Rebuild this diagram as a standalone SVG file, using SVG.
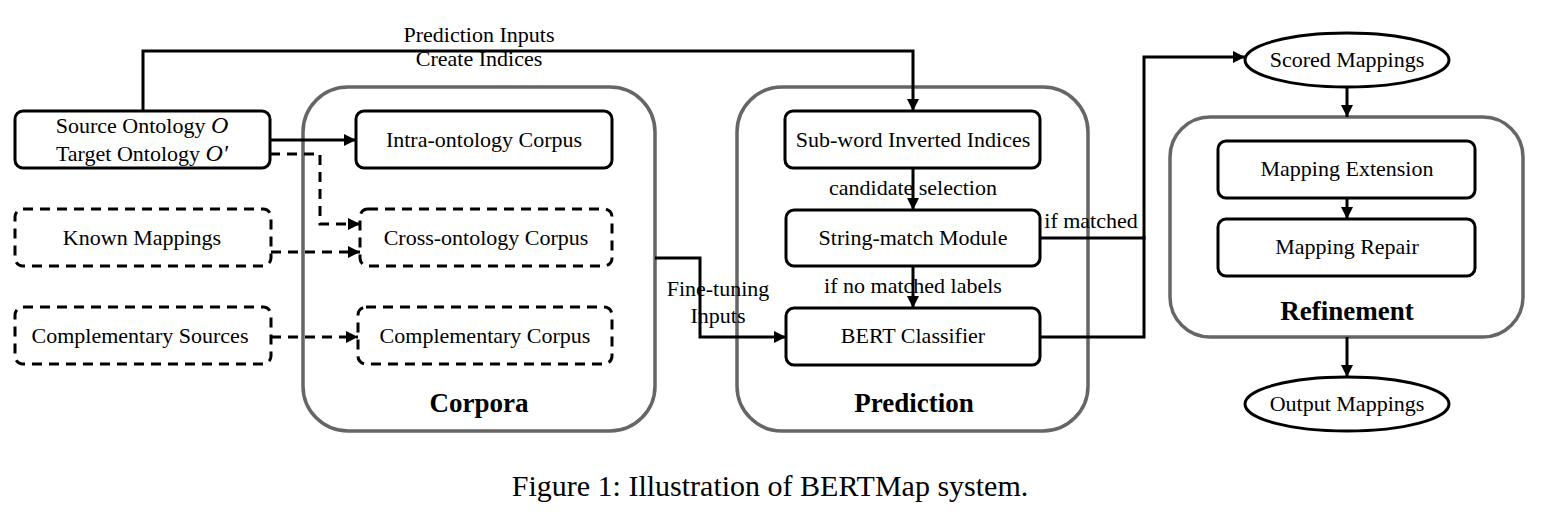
<svg xmlns="http://www.w3.org/2000/svg" width="1545" height="524" viewBox="0 0 1545 524">
<defs>
<marker id="ah" markerUnits="userSpaceOnUse" markerWidth="14" markerHeight="14" refX="12" refY="6" orient="auto">
<path d="M0,0 L12,6 L0,12 Z" fill="#000"/>
</marker>
<style>
.box{fill:#fff;stroke:#000;stroke-width:3}
.dbox{fill:#fff;stroke:#000;stroke-width:3;stroke-dasharray:10,7}
.grp{fill:#fff;stroke:#666;stroke-width:3.5}
.t{font-family:"Liberation Serif","Times New Roman",serif;font-size:22px;fill:#000;text-anchor:middle}
.b{font-family:"Liberation Serif","Times New Roman",serif;font-size:27px;font-weight:bold;fill:#000;text-anchor:middle}
.c{fill:none;stroke:#000;stroke-width:3}
.dc{fill:none;stroke:#000;stroke-width:3;stroke-dasharray:10,7}
</style>
</defs>
<rect width="1545" height="524" fill="#fff"/>

<g id="corpora">
<rect class="grp" x="303" y="87" width="352" height="344" rx="45"/>
<text class="b" x="479" y="412">Corpora</text>
</g>
<g id="prediction">
<rect class="grp" x="737" y="87" width="351" height="344" rx="45"/>
<text class="b" x="914" y="412">Prediction</text>
</g>
<g id="refinement">
<rect class="grp" x="1170" y="117" width="353" height="220" rx="40"/>
<text class="b" x="1347" y="320">Refinement</text>
</g>

<g id="connectors">
<polyline class="c" points="143,111 143,51 913,51 913,111" marker-end="url(#ah)"/>
<line class="c" x1="270" y1="140" x2="356" y2="140" marker-end="url(#ah)"/>
<polyline class="dc" points="270,154 320,154 320,224 360,224" marker-end="url(#ah)"/>
<line class="dc" x1="271" y1="252" x2="360" y2="252" marker-end="url(#ah)"/>
<line class="dc" x1="271" y1="337" x2="358" y2="337" marker-end="url(#ah)"/>
<polyline class="c" points="655,258 700,258 700,337 786,337" marker-end="url(#ah)"/>
<line class="c" x1="913" y1="168" x2="913" y2="210" marker-end="url(#ah)"/>
<line class="c" x1="913" y1="266" x2="913" y2="308" marker-end="url(#ah)"/>
<polyline class="c" points="1040,238 1144,238 1144,57 1245,57" marker-end="url(#ah)"/>
<polyline class="c" points="1040,337 1144,337 1144,236"/>
<line class="c" x1="1347" y1="87" x2="1347" y2="117" marker-end="url(#ah)"/>
<line class="c" x1="1347" y1="198" x2="1347" y2="219" marker-end="url(#ah)"/>
<line class="c" x1="1347" y1="337" x2="1347" y2="377" marker-end="url(#ah)"/>
<text class="t" x="479" y="42">Prediction Inputs</text>
<text class="t" x="479" y="66">Create Indices</text>
<text class="t" x="718" y="296">Fine-tuning</text>
<text class="t" x="718" y="323">Inputs</text>
<text class="t" x="913" y="195">candidate selection</text>
<text class="t" x="913" y="293">if no matched labels</text>
<text class="t" x="1091" y="228">if matched</text>
</g>

<g id="source-target">
<rect class="box" x="15" y="111" width="255" height="57" rx="8"/>
<text class="t" x="142" y="133">Source Ontology <tspan font-style="italic" font-size="24">O</tspan></text>
<text class="t" x="142" y="161">Target Ontology <tspan font-style="italic" font-size="24">O′</tspan></text>
</g>
<g id="known-mappings">
<rect class="dbox" x="15" y="209" width="256" height="57" rx="8"/>
<text class="t" x="142" y="245">Known Mappings</text>
</g>
<g id="complementary-sources">
<rect class="dbox" x="15" y="307" width="256" height="57" rx="8"/>
<text class="t" x="140" y="343">Complementary Sources</text>
</g>
<g id="intra-corpus">
<rect class="box" x="356" y="111" width="256" height="57" rx="8"/>
<text class="t" x="484" y="147">Intra-ontology Corpus</text>
</g>
<g id="cross-corpus">
<rect class="dbox" x="360" y="209" width="252" height="57" rx="8"/>
<text class="t" x="486" y="245">Cross-ontology Corpus</text>
</g>
<g id="complementary-corpus">
<rect class="dbox" x="358" y="307" width="254" height="57" rx="8"/>
<text class="t" x="485" y="343">Complementary Corpus</text>
</g>
<g id="subword-indices">
<rect class="box" x="785" y="111" width="255" height="57" rx="8"/>
<text class="t" x="913" y="147">Sub-word Inverted Indices</text>
</g>
<g id="string-match">
<rect class="box" x="786" y="210" width="254" height="56" rx="8"/>
<text class="t" x="913" y="245">String-match Module</text>
</g>
<g id="bert-classifier">
<rect class="box" x="786" y="308" width="254" height="57" rx="8"/>
<text class="t" x="913" y="343">BERT Classifier</text>
</g>
<g id="scored-mappings">
<ellipse class="box" cx="1347" cy="60" rx="102" ry="27"/>
<text class="t" x="1347" y="67">Scored Mappings</text>
</g>
<g id="mapping-extension">
<rect class="box" x="1218" y="141" width="257" height="57" rx="8"/>
<text class="t" x="1347" y="176">Mapping Extension</text>
</g>
<g id="mapping-repair">
<rect class="box" x="1218" y="219" width="257" height="57" rx="8"/>
<text class="t" x="1347" y="254">Mapping Repair</text>
</g>
<g id="output-mappings">
<ellipse class="box" cx="1347" cy="404" rx="102" ry="27"/>
<text class="t" x="1347" y="411">Output Mappings</text>
</g>
<text x="770" y="496" font-family="Liberation Serif, Times New Roman, serif" font-size="30" text-anchor="middle" fill="#000">Figure 1: Illustration of BERTMap system.</text>
</svg>
